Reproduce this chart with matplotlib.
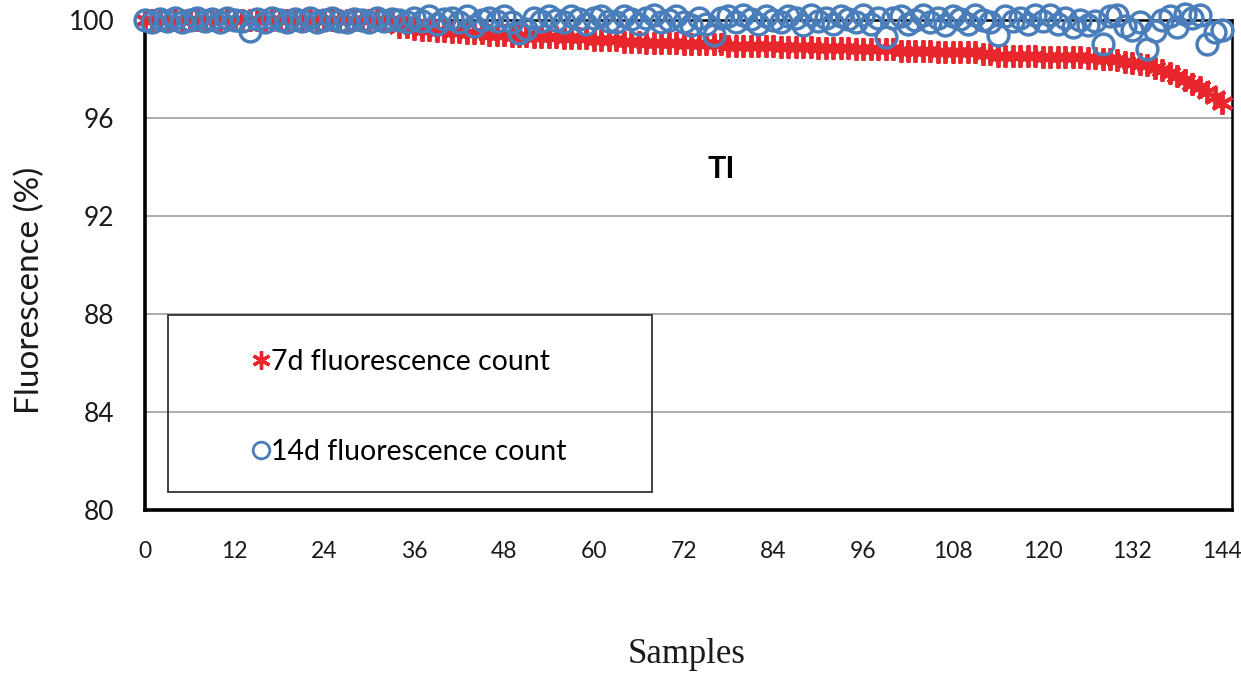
import matplotlib
matplotlib.use("Agg")
import matplotlib.pyplot as plt
from matplotlib.lines import Line2D
from matplotlib.patches import Rectangle

plt.rcParams['font.family'] = ['Lato', 'DejaVu Sans']

# samples 0..144
samples = list(range(145))

# 7d fluorescence count (%)
red_7d = (
    [100.0] * 34
    + [99.7, 99.7, 99.65, 99.6, 99.6, 99.55, 99.55, 99.5]
    + [99.5, 99.45, 99.45, 99.45, 99.4, 99.4, 99.4, 99.35, 99.35, 99.35, 99.3, 99.3]
    + [99.3, 99.3, 99.25, 99.25, 99.25, 99.25, 99.2, 99.2, 99.2, 99.2]
    + [99.1, 99.1, 99.1, 99.05, 99.05, 99.05, 99.05, 99.05, 99.0, 99.0,
       99.0, 99.0, 99.0, 99.0, 98.95, 98.95, 98.95, 98.95, 98.95]
    + [98.95, 98.95, 98.9, 98.9, 98.9, 98.9, 98.9, 98.85, 98.85, 98.85,
       98.85, 98.85, 98.8, 98.8]
    + [98.8, 98.8, 98.8, 98.8, 98.75, 98.75, 98.75, 98.75, 98.75, 98.7,
       98.7, 98.7, 98.7, 98.7, 98.7]
    + [98.6, 98.6, 98.55, 98.55, 98.55, 98.55, 98.55, 98.55, 98.5, 98.5,
       98.5, 98.5, 98.5, 98.5, 98.45, 98.45]
    + [98.4, 98.4, 98.35, 98.3, 98.25, 98.2, 98.15, 98.05, 97.95, 97.85,
       97.7, 97.55, 97.4, 97.25, 97.05, 96.85, 96.6]
)

# 14d fluorescence count (%)
blue_14d = [
    100.0, 99.9, 100.05, 99.95, 100.1, 99.9, 100.0, 100.1, 99.95, 100.05,
    99.9, 100.1, 100.0, 99.95, 99.55, 100.05, 99.9, 100.1, 100.0, 99.9,
    100.05, 99.95, 100.1, 99.9, 100.0, 100.1, 99.95, 99.9, 100.05, 100.0,
    99.9, 100.1, 99.95, 100.05, 100.0, 99.9, 100.1, 99.95, 100.15, 99.85,
    100.05, 100.1, 99.9, 100.15, 99.75, 100.0, 100.1, 99.95, 100.15, 99.9,
    99.45, 99.65, 100.1, 99.95, 100.15, 100.0, 99.9, 100.15, 100.05, 99.85,
    100.1, 100.15, 99.95, 99.9, 100.15, 100.05, 99.85, 100.1, 100.2, 99.9,
    100.0, 100.15, 99.9, 99.8, 100.1, 99.85, 99.4, 100.1, 100.15, 99.9,
    100.2, 100.05, 99.85, 100.15, 100.0, 99.9, 100.15, 100.1, 99.8, 100.2,
    99.95, 100.1, 99.85, 100.15, 100.05, 99.9, 100.2, 99.85, 100.1, 99.3,
    100.1, 100.15, 99.85, 100.0, 100.2, 99.9, 100.1, 99.8, 100.15, 100.05,
    99.85, 100.2, 100.0, 99.9, 99.4, 100.15, 99.95, 100.1, 99.85, 100.2,
    99.95, 100.2, 99.85, 100.1, 99.7, 100.0, 99.8, 99.95, 99.0, 100.15,
    100.2, 99.75, 99.6, 99.9, 98.8, 99.55, 100.0, 100.15, 99.7, 100.25,
    100.1, 100.2, 99.0, 99.5, 99.6,
]

x_ticks = list(range(0, 145, 12))
y_ticks = [80, 84, 88, 92, 96, 100]

red = '#e8262b'
blue = '#4a7ebb'

fig = plt.figure(figsize=(12.41, 6.75), dpi=100)
ax = fig.add_axes([0.1168, 0.2444, 0.8759, 0.726])

ax.plot(samples, red_7d, linestyle='none', marker=(6, 2, 0), ms=16, mew=2.8,
        color=red, zorder=3, clip_on=False)
ax.plot(samples, blue_14d, linestyle='none', marker='o', ms=15, mew=2.5,
        mfc='none', mec=blue, zorder=3.1, clip_on=False)

ax.set_xlim(0, 145.3)
ax.set_ylim(80, 100)
ax.set_xticks(x_ticks)
ax.set_yticks(y_ticks)
ax.tick_params(length=0, labelsize=19, colors='#1a1a1a')
ax.tick_params(axis='x', pad=22, labelsize=16.5)
ax.tick_params(axis='y', pad=22)

ax.grid(axis='y', color='#a6a6a6', lw=1.3)
ax.set_axisbelow(True)
for side in ['left', 'bottom']:
    ax.spines[side].set_linewidth(2.6)
for side in ['top', 'right']:
    ax.spines[side].set_linewidth(1.8)
for s in ax.spines.values():
    s.set_color('black')

ax.text(77, 93.9, 'TI', fontsize=22, fontweight='bold', ha='center', va='center')

fig.text(0.0242, 0.57, 'Fluorescence (%)', rotation=90, fontsize=24,
         ha='center', va='center', color='#1a1a1a')
fig.text(0.553, 0.03, 'Samples', fontsize=25, family='Liberation Serif',
         ha='center', va='center', color='#1a1a1a')

# legend box
ax.add_patch(Rectangle((0.0212, 0.0367), 0.4452, 0.3613, transform=ax.transAxes,
                       fill=False, lw=1.3, edgecolor='#333333', zorder=4))
handles = [
    Line2D([], [], linestyle='none', marker=(6, 2, 0), ms=13, mew=2.4, color=red),
    Line2D([], [], linestyle='none', marker='o', ms=12, mew=2, mfc='none', mec=blue),
]
ax.legend(handles, ['7d fluorescence count', '14d fluorescence count'],
          loc='upper left', bbox_to_anchor=(0.074, 0.380), frameon=False,
          fontsize=20.5, handlelength=0.7, handletextpad=0.0, labelspacing=2.22,
          borderpad=0.4)

fig.savefig('out.png', dpi=100)
